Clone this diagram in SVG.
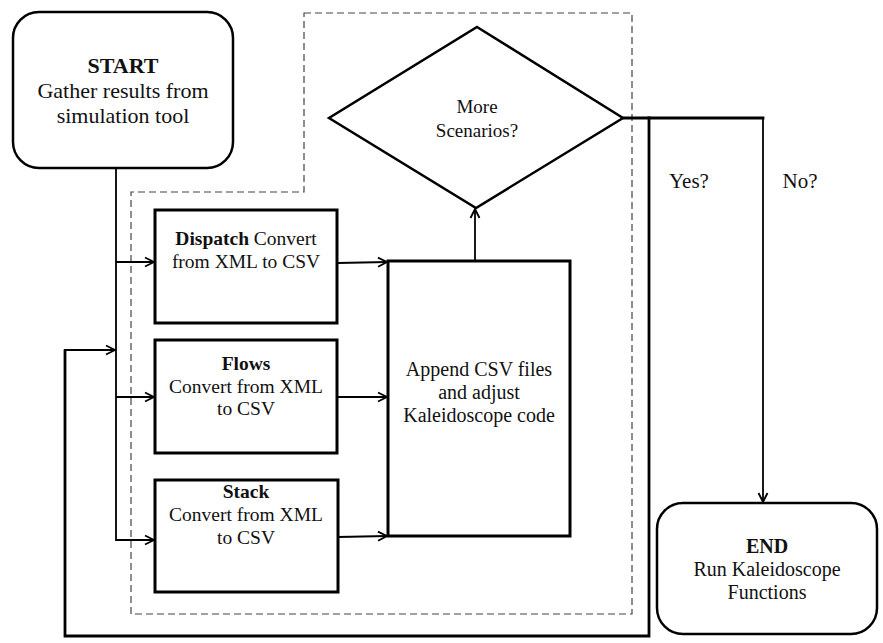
<svg xmlns="http://www.w3.org/2000/svg" width="883" height="643" viewBox="0 0 883 643">
<style>
  text { font-family: "Liberation Serif", "Times New Roman", serif; fill: #111; text-anchor: middle; }
  .b { font-weight: bold; }
  .box { fill: #fff; stroke: #000; stroke-width: 3; }
  .term { fill: #fff; stroke: #000; stroke-width: 2.5; }
  .conn { fill: none; stroke: #000; stroke-width: 1.8; }
  .thick { fill: none; stroke: #000; stroke-width: 2.8; stroke-linecap: square; }
  .dash { fill: none; stroke: #444; stroke-width: 1.2; stroke-dasharray: 7 4; }
</style>
<defs>
  <marker id="arr" markerWidth="12" markerHeight="12" refX="10" refY="6" orient="auto" markerUnits="userSpaceOnUse">
    <polyline points="1,1.5 10,6 1,10.5" fill="none" stroke="#000" stroke-width="1.8"/>
  </marker>
</defs>
<rect width="883" height="643" fill="#fff"/>

<path class="dash" d="M304,13 L632,13 L632,614 L131,614 L131,192 L304,192 Z"/>

<g id="connectors">
  <path class="conn" d="M116,168 L116,540 L154,540" marker-end="url(#arr)"/>
  <path class="conn" d="M116,262 L154,262" marker-end="url(#arr)"/>
  <path class="conn" d="M116,397 L154,397" marker-end="url(#arr)"/>
  <path class="conn" d="M338,263 L387,262" marker-end="url(#arr)"/>
  <path class="conn" d="M338,397 L387,397" marker-end="url(#arr)"/>
  <path class="conn" d="M338,537 L387,536" marker-end="url(#arr)"/>
  <path class="conn" d="M475,261 L475,209" marker-end="url(#arr)"/>
  <path class="thick" d="M624,118 L763,118"/>
  <path class="thick" d="M649,118 L649,636 L65,636 L65,351"/>
  <path class="conn" d="M64,350 L115,350" marker-end="url(#arr)"/>
  <path class="conn" d="M763,118 L763,502" marker-end="url(#arr)"/>
</g>

<g id="start">
  <rect class="term" x="13" y="12" width="220" height="156" rx="26"/>
  <text class="b" x="123" y="73" font-size="22">START</text>
  <text x="123" y="98" font-size="22">Gather results from</text>
  <text x="123" y="123" font-size="22">simulation tool</text>
</g>

<g id="dispatch">
  <rect class="box" x="155" y="210" width="182" height="113"/>
  <text x="246" y="245" font-size="19.5"><tspan class="b">Dispatch</tspan> Convert</text>
  <text x="246" y="268" font-size="19.5">from XML to CSV</text>
</g>

<g id="flows">
  <rect class="box" x="155" y="340" width="182" height="113"/>
  <text class="b" x="246" y="370" font-size="19.5">Flows</text>
  <text x="246" y="393" font-size="19.5">Convert from XML</text>
  <text x="246" y="415" font-size="19.5">to CSV</text>
</g>

<g id="stack">
  <rect class="box" x="155" y="480" width="183" height="112"/>
  <text class="b" x="246" y="498" font-size="19.5">Stack</text>
  <text x="246" y="521" font-size="19.5">Convert from XML</text>
  <text x="246" y="544" font-size="19.5">to CSV</text>
</g>

<g id="append">
  <rect class="box" x="388" y="261" width="182" height="275"/>
  <text x="479" y="376" font-size="20">Append CSV files</text>
  <text x="479" y="399" font-size="20">and adjust</text>
  <text x="479" y="422" font-size="20">Kaleidoscope code</text>
</g>

<g id="decision">
  <polygon points="477,27 623,118 476,208 329,118" fill="#fff" stroke="#000" stroke-width="2.5"/>
  <text x="477" y="113" font-size="19">More</text>
  <text x="477" y="137" font-size="19">Scenarios?</text>
</g>

<g id="labels">
  <text x="689" y="188" font-size="21">Yes?</text>
  <text x="800" y="188" font-size="21">No?</text>
</g>

<g id="end">
  <rect class="term" x="657" y="503" width="220" height="131" rx="26"/>
  <text class="b" x="767" y="553" font-size="20">END</text>
  <text x="767" y="576" font-size="20">Run Kaleidoscope</text>
  <text x="767" y="599" font-size="20">Functions</text>
</g>
</svg>
